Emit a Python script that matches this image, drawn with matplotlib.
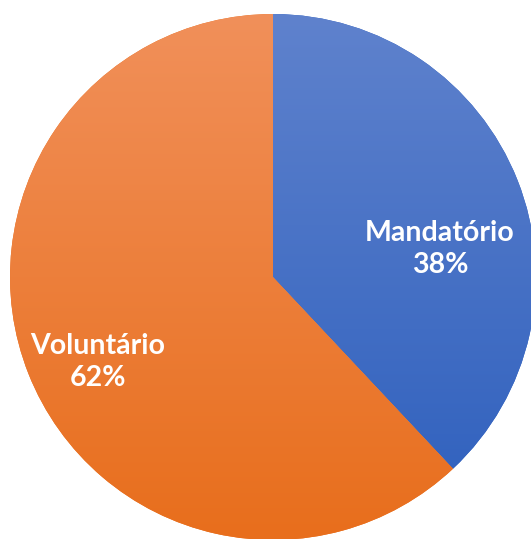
import matplotlib.pyplot as plt
import numpy as np

labels = ['Mandatório', 'Voluntário']
shares = [38, 62]
top_colors = ['#5f82cd', '#f1905a']
bottom_colors = ['#2d5fbd', '#e86e1c']
label_pos = [(440, 290), (98, 177)]

fig = plt.figure(figsize=(5.31, 5.39), dpi=100)
ax = fig.add_axes([0, 0, 1, 1])
cx, cy, r = 273, 262, 263

wedges, _ = ax.pie(shares, center=(cx, cy), radius=r, startangle=90,
                   counterclock=False, colors=bottom_colors,
                   wedgeprops=dict(linewidth=0))

for w, c0, c1 in zip(wedges, top_colors, bottom_colors):
    a = np.array(plt.matplotlib.colors.to_rgb(c0))
    b = np.array(plt.matplotlib.colors.to_rgb(c1))
    t = np.linspace(0, 1, 256)[:, None]
    grad = (a * (1 - t) + b * t)[:, None, :]
    im = ax.imshow(grad, extent=[cx - r, cx + r, cy - r, cy + r],
                   origin='upper', aspect='auto', zorder=2)
    im.set_clip_path(w)

for (x, y), lab, v in zip(label_pos, labels, shares):
    ax.text(x, y, f'{lab}\n{v}%', ha='center', va='center', color='white',
            fontsize=20.5, fontweight='bold', family='Lato',
            linespacing=1.32, zorder=3)

ax.set_xlim(0, 531)
ax.set_ylim(0, 539)
ax.set_aspect('auto')
ax.axis('off')
fig.savefig('out.png', dpi=100)
